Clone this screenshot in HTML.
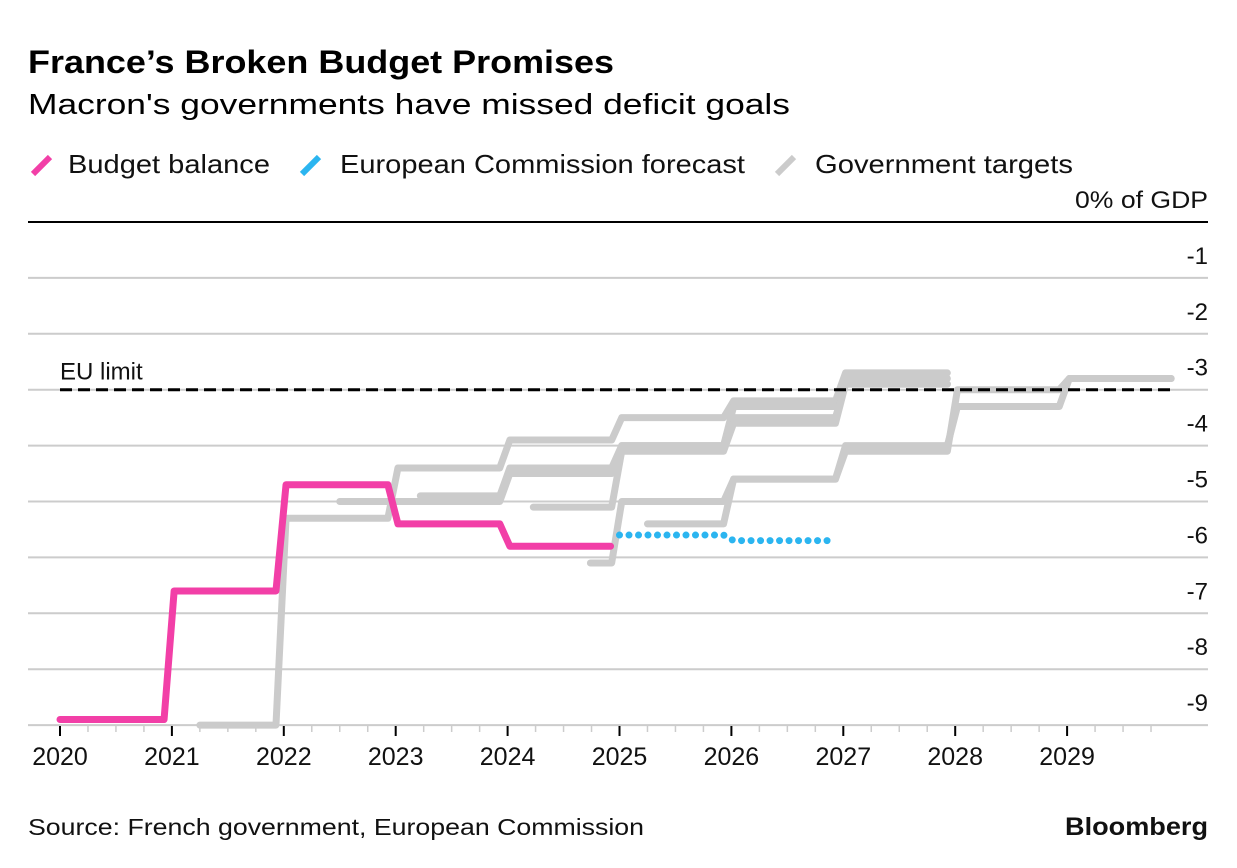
<!DOCTYPE html>
<html><head><meta charset="utf-8">
<style>
body{margin:0;background:#fff;font-family:"Liberation Sans",sans-serif;}
#wrap{position:relative;width:1237px;height:868px;overflow:hidden;}
</style></head>
<body>
<div id="wrap">
<svg id="chart" width="1237" height="868" xmlns="http://www.w3.org/2000/svg">
<text x="28" y="73" font-size="32" font-weight="bold" fill="#000" textLength="586" lengthAdjust="spacingAndGlyphs">France’s Broken Budget Promises</text>
<text x="28" y="114" font-size="29" fill="#000" textLength="762" lengthAdjust="spacingAndGlyphs">Macron's governments have missed deficit goals</text>
<g>
<g><line x1="33" y1="174" x2="50" y2="157" stroke="#f23fa7" stroke-width="6"/><text x="68" y="173" font-size="26" fill="#111" textLength="202" lengthAdjust="spacingAndGlyphs">Budget balance</text></g>
<g><line x1="302" y1="174" x2="319" y2="157" stroke="#2bb5f0" stroke-width="6"/><text x="340" y="173" font-size="26" fill="#111" textLength="405" lengthAdjust="spacingAndGlyphs">European Commission forecast</text></g>
<g><line x1="777" y1="174" x2="794" y2="157" stroke="#cbcbcb" stroke-width="6"/><text x="815" y="173" font-size="26" fill="#111" textLength="258" lengthAdjust="spacingAndGlyphs">Government targets</text></g>
</g>
<g id="grid"></g>
<g id="series"></g>
<g id="axes"></g>
<text x="28" y="835" font-size="23" fill="#111" textLength="616" lengthAdjust="spacingAndGlyphs">Source: French government, European Commission</text>
<text x="1208" y="835" font-size="25" font-weight="bold" text-anchor="end" fill="#111" textLength="143" lengthAdjust="spacingAndGlyphs">Bloomberg</text>
</svg>
</div>
<script>
const yTicks = [0,-1,-2,-3,-4,-5,-6,-7,-8,-9];
const yTickLabels = ["0% of GDP","-1","-2","-3","-4","-5","-6","-7","-8","-9"];
const xYears = [2020,2021,2022,2023,2024,2025,2026,2027,2028,2029];
const euLimit = -3;
// Budget balance: year, value
const balanceYears = [2020,2021,2022,2023,2024];
const balanceValues = [-8.9,-6.6,-4.7,-5.4,-5.8];
// EC forecast
const ecYears = [2025,2026];
const ecValues = [-5.6,-5.7];
// Government targets (start point fraction, values per year)
const tStarts = [2021.25,2022.5,2023.22,2024.23,2024.74,2025.25];
const tYears0 = [2021,2022,2023,2024,2024,2025];
const tValues = [
 [-9.0,-5.3,-4.4,-3.9,-3.5,-3.2,-2.7],
 [-5.0,-5.0,-4.5,-4.0,-3.3,-2.8],
 [-4.9,-4.4,-4.0,-3.5,-2.9],
 [-5.1,-4.1,-3.6,-2.9],
 [-6.1,-5.0,-4.6,-4.0,-3.3,-2.8],
 [-5.4,-4.6,-4.1,-3.0,-2.8]
];
const NS="http://www.w3.org/2000/svg";
const X0=60, XW=111.9, Y0=222, YH=55.9;
const xs = t => X0 + (t-2020)*XW;
const ys = v => Y0 - v*YH;
function mk(tag, attrs, parent){const e=document.createElementNS(NS,tag);for(const k in attrs)e.setAttribute(k,attrs[k]);parent.appendChild(e);return e;}
const grid=document.getElementById('grid'), series=document.getElementById('series'), axes=document.getElementById('axes');
yTicks.forEach((v,i)=>{
  const l=mk('line',{x1:28,x2:1208,y1:ys(v),y2:ys(v),stroke:v===0?'#000':'#cccccc','stroke-width':2},grid);
  
  
  const t=mk('text',{x:1208,y:ys(v)-14,'font-size':24,'text-anchor':'end',fill:'#111'},grid);
  if(v===0){t.setAttribute('textLength',133);t.setAttribute('lengthAdjust','spacingAndGlyphs');}
  t.textContent=yTickLabels[i];
  
  
});
xYears.forEach(yr=>{
  const tk=mk('line',{x1:xs(yr),x2:xs(yr),y1:726,y2:736,stroke:'#000','stroke-width':2},axes);
  
  
  for(let q=1;q<4;q++){
    const m=mk('line',{x1:xs(yr+q/4),x2:xs(yr+q/4),y1:726,y2:732,stroke:'#ccc','stroke-width':1.5},axes);
    
    
  }
  const t=mk('text',{x:xs(yr),y:765,'font-size':25,'text-anchor':'middle',fill:'#111'},axes);
  t.textContent=yr;
  
  
});
function stepPath(start, y0, vals, endFrac){
  let d='';
  vals.forEach((v,i)=>{
    const a = i===0 ? start : y0+i+0.02;
    const b = y0+i+(i===vals.length-1?endFrac:0.93);
    d += (i===0?'M':'L')+xs(a)+','+ys(v)+' L'+xs(b)+','+ys(v)+' ';
  });
  return d;
}
tValues.forEach((vals,i)=>{
  const p=mk('path',{d:stepPath(tStarts[i],tYears0[i],vals,0.93),fill:'none',stroke:'#cbcbcb','stroke-width':7,'stroke-linejoin':'round','stroke-linecap':'round'},series);
  
  
});
const eu=mk('line',{x1:60,x2:1170,y1:ys(euLimit),y2:ys(euLimit),stroke:'#000','stroke-width':3,'stroke-dasharray':'12 6'},series);


const eut=mk('text',{x:60,y:ys(euLimit)-10,'font-size':24,fill:'#111'},series);
eut.textContent='EU limit';


const bp=mk('path',{d:stepPath(balanceYears[0],balanceYears[0],balanceValues,0.92),fill:'none',stroke:'#f23fa7','stroke-width':7,'stroke-linejoin':'round','stroke-linecap':'round'},series);


const ep=mk('path',{d:stepPath(ecYears[0],ecYears[0],ecValues,0.9),fill:'none',stroke:'#2bb5f0','stroke-width':7,'stroke-dasharray':'0 9.5','stroke-linecap':'round','stroke-linejoin':'round'},series);


</script>
</body></html>
